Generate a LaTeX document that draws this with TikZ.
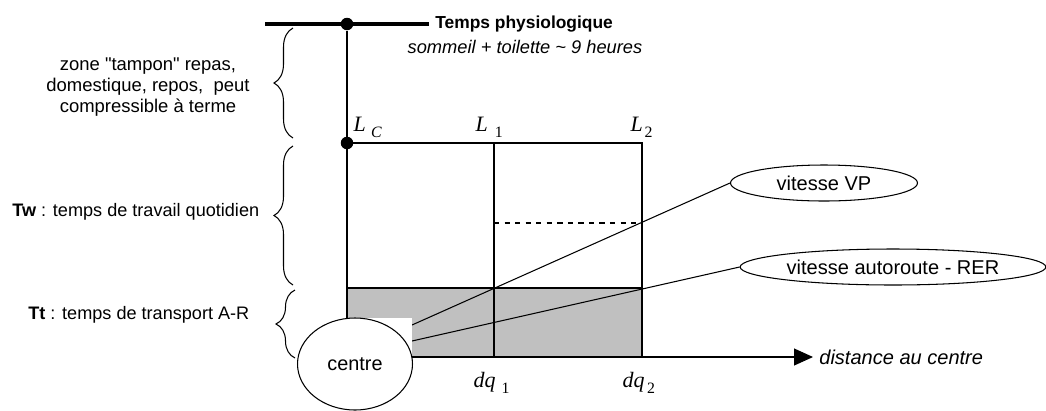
\documentclass[tikz,border=0pt]{standalone}
\usepackage{fontspec}
\setmainfont{Liberation Sans}[Ligatures=TeXOff]
\newfontfamily\tms{Liberation Serif}
\usetikzlibrary{arrows.meta,positioning,calc,shapes.geometric,decorations.pathreplacing}
\definecolor{bandgrey}{HTML}{C0C0C0}
\newcommand\lab[3]{{\tms\itshape #1}\kern#2\raisebox{-3.6pt}{\tms\fontsize{9}{9}\selectfont #3}}

\begin{document}
\begin{tikzpicture}[x=0.02cm,y=-0.02cm,every node/.style={font=\fontsize{10.3}{12}\selectfont,align=center},line width=0.6pt,
 brc/.style={decorate,decoration={brace,amplitude=0.38cm}},
 dot/.style={circle,fill=black,inner sep=0pt,minimum size=0.25cm},
 bubble/.style={ellipse,draw,fill=white,minimum height=0.72cm,inner sep=1pt,font=\fontsize{11.4}{13}\selectfont},
 idx/.style={anchor=base west,inner sep=0pt,font=\fontsize{12.5}{14}\selectfont}]
\useasboundingbox (0,0) rectangle (1046,410);
% time budget bands
\fill[bandgrey] (347,288) rectangle (642,357);
\draw (347,288) -- (642,288);
\coordinate (lc) at (347,143);
\coordinate (l1) at (494,143);
\coordinate (l2) at (642,143);
\coordinate (q1) at (494,357);
\coordinate (q2) at (642,357);
\coordinate (o) at (347,357);
\coordinate (tl) at (265,24);
\node[dot] (top) at (347,24) {};
\node[dot] (base) at (lc) {};
\node[anchor=west,font=\fontsize{9.9}{12}\selectfont\bfseries] (phys) at (429,24) {Temps physiologique};
\node[font=\fontsize{10.4}{12}\selectfont\itshape] (sleep) at (525,47) {sommeil + toilette \textasciitilde{} 9 heures};
\draw[line width=1.8pt] (tl) -- (phys.west);
\draw (top) -- (o);
\draw (lc) -- (l2) -- (q2) -- (o);
\draw (l1) -- (q1);
% labels
\node[idx] (nlc) at (353,131) {\lab{L}{3pt}{\itshape C}};
\node[idx] (nl1) at (475,131) {\lab{L}{4pt}{1}};
\node[idx] (nl2) at (630,131) {\lab{L}{1pt}{2}};
\node[idx] (nq1) at (473,387) {\lab{dq}{3.5pt}{1}};
\node[idx] (nq2) at (622,387) {\lab{dq}{1.5pt}{2}};
% speeds
\node[bubble,minimum width=3.74cm] (vp) at (824,183) {vitesse VP};
\node[bubble,minimum width=6.1cm] (rer) at (893,267) {vitesse autoroute - RER};
\coordinate (vps) at (412,325);
\coordinate (rers) at (412,341);
\draw (vps) -- (vp.west);
\draw (rers) -- (rer.west);
\draw[dashed] (494,223) -- (642,223);
% centre
\fill[white] (340,318) rectangle (412,358);
\node[ellipse,draw,fill=white,minimum width=2.3cm,minimum height=1.84cm,font=\fontsize{11.3}{13}\selectfont] (centre) at (355,364) {centre};
% axis
\node[anchor=west,font=\fontsize{11.4}{13}\selectfont\itshape] (dist) at (813,357) {distance au centre};
\draw[-{Triangle[length=0.38cm,width=0.34cm]}] (q2) -- (dist.west);
% braces
\draw[brc] (293,138) -- (293,28);
\draw[brc] (293,285) -- (293,146);
\draw[brc] (295,358) -- (295,290);
\node[font=\fontsize{10.5}{12}\selectfont] (buf) at (148,87) {zone "tampon" repas,\\domestique, repos,~ peut\\compressible à terme};
\node[anchor=west] (tw) at (6,212) {\textbf{Tw} : temps de travail quotidien};
\node[anchor=west] (tt) at (22,315) {\textbf{Tt} : temps de transport A-R};
\end{tikzpicture}
\end{document}
